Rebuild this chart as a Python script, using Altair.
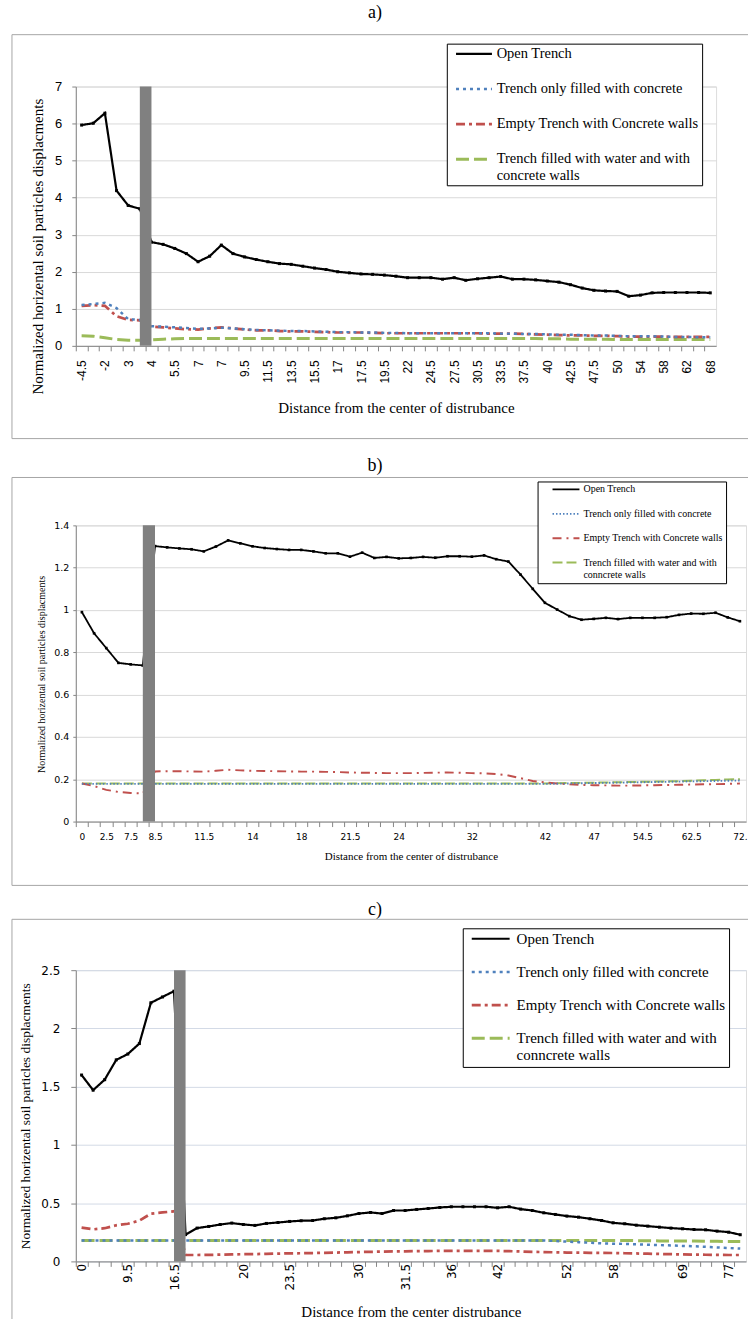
import altair as alt
import pandas as pd

# ---------------- data: panel a ----------------
a_names = ["Open Trench", "Trench only filled with concrete",
           "Empty Trench with Concrete walls",
           "Trench filled with water and with concrete walls"]
a_label_idx = list(range(0, 55, 2))
a_label_txt = ["-4.5", "-2", "3", "4", "5.5", "7", "7", "9.5", "11.5", "13.5", "15.5", "17",
               "17.5", "19.5", "22", "24.5", "27.5", "30.5", "33.5", "37.5", "40", "42.5",
               "47.5", "50", "54", "58", "62", "68"]
a_open = [5.96, 6.01, 6.28, 4.19, 3.79, 3.70, 2.80, 2.74, 2.63, 2.49,
          2.27, 2.42, 2.72, 2.49, 2.40, 2.33, 2.27, 2.22, 2.20, 2.15,
          2.10, 2.06, 2.00, 1.97, 1.94, 1.93, 1.91, 1.88, 1.84, 1.84,
          1.84, 1.80, 1.84, 1.77, 1.81, 1.84, 1.87, 1.80, 1.80, 1.78,
          1.75, 1.72, 1.65, 1.56, 1.50, 1.48, 1.47, 1.34, 1.37, 1.43,
          1.44, 1.44, 1.44, 1.44, 1.43]
a_concrete = [1.10, 1.13, 1.16, 1.02, 0.72, 0.70, 0.53, 0.52, 0.50, 0.48,
              0.46, 0.47, 0.49, 0.47, 0.45, 0.43, 0.42, 0.41, 0.40, 0.40,
              0.39, 0.38, 0.37, 0.37, 0.36, 0.36, 0.35, 0.35, 0.34, 0.34,
              0.34, 0.34, 0.34, 0.34, 0.34, 0.34, 0.33, 0.33, 0.32, 0.32,
              0.31, 0.30, 0.30, 0.29, 0.28, 0.28, 0.27, 0.26, 0.26, 0.26,
              0.25, 0.24, 0.24, 0.23, 0.23]
a_empty = [1.08, 1.10, 1.08, 0.80, 0.70, 0.69, 0.52, 0.50, 0.47, 0.45,
           0.44, 0.47, 0.50, 0.47, 0.44, 0.42, 0.42, 0.40, 0.39, 0.39,
           0.38, 0.37, 0.36, 0.36, 0.36, 0.35, 0.34, 0.34, 0.34, 0.34,
           0.34, 0.34, 0.34, 0.34, 0.34, 0.33, 0.33, 0.33, 0.32, 0.31,
           0.30, 0.29, 0.28, 0.28, 0.27, 0.27, 0.26, 0.25, 0.25, 0.25,
           0.25, 0.24, 0.24, 0.24, 0.24]
a_water = [0.27, 0.26, 0.22, 0.17, 0.15, 0.15, 0.16, 0.18, 0.19, 0.20,
           0.20, 0.20, 0.20, 0.20, 0.20, 0.20, 0.20, 0.20, 0.20, 0.20,
           0.20, 0.20, 0.20, 0.20, 0.20, 0.20, 0.20, 0.20, 0.20, 0.20,
           0.20, 0.20, 0.20, 0.20, 0.20, 0.20, 0.20, 0.20, 0.20, 0.20,
           0.19, 0.19, 0.18, 0.18, 0.18, 0.18, 0.17, 0.17, 0.17, 0.17,
           0.17, 0.17, 0.17, 0.17, 0.17]
a_trench = [5, 6]
a_yticks = [0, 1, 2, 3, 4, 5, 6, 7]

# ---------------- data: panel b ----------------
b_names = ["Open Trench", "Trench only filled with concrete",
           "Empty Trench with Concrete walls",
           "Trench filled with water and with conncrete walls"]
b_label_idx = [0, 2, 4, 6, 10, 14, 18, 22, 26, 32, 38, 42, 46, 50, 54]
b_label_txt = ["0", "2.5", "7.5", "8.5", "11.5", "14", "18", "21.5", "24", "32", "42",
               "47", "54.5", "62.5", "72."]
b_open = [0.99, 0.89, 0.82, 0.75, 0.743, 0.738, 1.302, 1.296, 1.291, 1.287,
          1.277, 1.300, 1.329, 1.315, 1.301, 1.293, 1.288, 1.284, 1.284, 1.277,
          1.268, 1.268, 1.252, 1.271, 1.246, 1.251, 1.244, 1.246, 1.251, 1.247,
          1.254, 1.254, 1.252, 1.258, 1.240, 1.229, 1.167, 1.100, 1.034, 1.002,
          0.971, 0.954, 0.958, 0.963, 0.957, 0.963, 0.963, 0.963, 0.966, 0.977,
          0.983, 0.982, 0.987, 0.965, 0.947]
b_concrete = [0.178] * 39 + [0.179, 0.180, 0.181, 0.182, 0.183, 0.184, 0.185, 0.186,
                             0.187, 0.188, 0.189, 0.190, 0.191, 0.192, 0.193, 0.194]
b_empty = [0.180, 0.168, 0.150, 0.140, 0.135, 0.133,
           0.237, 0.238, 0.238, 0.237, 0.236, 0.240, 0.245, 0.242, 0.240, 0.239,
           0.238, 0.237, 0.236, 0.236, 0.235, 0.234, 0.232, 0.231, 0.230, 0.229,
           0.229, 0.229, 0.230, 0.231, 0.232, 0.231, 0.229, 0.228, 0.225, 0.218,
           0.205, 0.192, 0.185, 0.180, 0.176, 0.173, 0.172, 0.171, 0.170, 0.170,
           0.171, 0.172, 0.173, 0.174, 0.175, 0.176, 0.177, 0.178, 0.180]
b_water = [0.180] * 39 + [0.181, 0.182, 0.183, 0.184, 0.185, 0.186, 0.187, 0.188,
                          0.189, 0.190, 0.191, 0.193, 0.195, 0.197, 0.199, 0.200]
b_trench = [5, 6]
b_yticks = [0, 0.2, 0.4, 0.6, 0.8, 1.0, 1.2, 1.4]

# ---------------- data: panel c ----------------
c_names = ["Open Trench", "Trench only filled with concrete",
           "Empty Trench with Concrete walls",
           "Trench filled with water and with conncrete walls"]
c_label_idx = [0, 4, 8, 14, 18, 24, 28, 32, 36, 42, 46, 52, 56]
c_label_txt = ["0", "9.5", "16.5", "20", "23.5", "30", "31.5", "36", "42", "52", "58",
               "69", "77"]
c_open = [1.60, 1.47, 1.56, 1.73, 1.78, 1.87, 2.22, 2.27, 2.32, 0.230,
          0.286, 0.300, 0.317, 0.329, 0.317, 0.309, 0.326, 0.334, 0.343, 0.349,
          0.351, 0.366, 0.374, 0.391, 0.411, 0.420, 0.411, 0.437, 0.437, 0.446,
          0.454, 0.463, 0.469, 0.469, 0.469, 0.469, 0.460, 0.469, 0.449, 0.437,
          0.417, 0.403, 0.389, 0.380, 0.366, 0.351, 0.331, 0.323, 0.311, 0.303,
          0.294, 0.286, 0.280, 0.274, 0.271, 0.260, 0.251, 0.229]
c_concrete = [0.18] * 41 + [0.175, 0.170, 0.165, 0.160, 0.155, 0.152, 0.150, 0.147,
                            0.143, 0.140, 0.137, 0.133, 0.130, 0.125, 0.120, 0.115, 0.110]
c_empty = [0.290, 0.275, 0.285, 0.310, 0.323, 0.350, 0.410, 0.420, 0.430,
           0.055, 0.055, 0.056, 0.058, 0.060, 0.062, 0.063, 0.065, 0.067, 0.069,
           0.070, 0.072, 0.074, 0.076, 0.078, 0.080, 0.082, 0.084, 0.086, 0.087,
           0.088, 0.089, 0.090, 0.090, 0.090, 0.090, 0.090, 0.090, 0.088, 0.085,
           0.082, 0.080, 0.078, 0.076, 0.075, 0.074, 0.073, 0.072, 0.070, 0.068,
           0.066, 0.064, 0.062, 0.060, 0.058, 0.057, 0.056, 0.055, 0.055]
c_water = [0.18] * 46 + [0.180, 0.180, 0.178, 0.178, 0.176, 0.176, 0.175, 0.175,
                         0.173, 0.172, 0.171, 0.170]
c_trench = [8, 9]
c_yticks = [0, 0.5, 1.0, 1.5, 2.0, 2.5]

COLORS = ["#000000", "#4F81BD", "#C0504D", "#9BBB59"]
SERIF = "Liberation Serif"
FRAME = "#A6A6A6"
AXIS = "#868686"
PLOT_LEFT = 75
PAGE_W = 749
LEG_SHAPE = "M-6,0L6,0"   # horizontal stroke, 12 units long


def build(names, series, label_idx, label_txt, trench, yticks, st):
    n = len(series[0])
    ymax = yticks[-1]
    rows = []
    for k in [3, 2, 1, 0]:
        for i, v in enumerate(series[k]):
            rows.append({"i": i, "v": v, "s": names[k]})
    df = pd.DataFrame(rows)
    W, H = st["w"], st["h"]
    cw = W / n

    idx_js = "[" + ",".join(str(i) for i in label_idx) + "]"
    txt_js = "[" + ",".join("'" + t + "'" for t in label_txt) + "]"
    lab_expr = (f"indexof({idx_js}, datum.value) >= 0 ? "
                f"{txt_js}[indexof({idx_js}, datum.value)] : ''")

    xscale = alt.Scale(domain=[-0.5, n - 0.5], nice=False, zero=False)
    yscale = alt.Scale(domain=[0, ymax], nice=False, zero=True)
    xaxis = alt.Axis(values=list(range(n)), labelExpr=lab_expr, labelOverlap=False,
                     labelFlush=False, labelAngle=st["xangle"], tickOffset=-cw / 2,
                     labelOffset=cw / 2, grid=False, title=st["xtitle"],
                     titleFont=SERIF, titleFontSize=st["xtitlesize"],
                     titleFontWeight="normal", titleColor="black",
                     titleY=st["xtitleY"], titleBaseline="middle",
                     labelFont=st["labfont"], labelFontSize=st["xlabsize"],
                     labelColor="black", labelPadding=st["xlabpad"],
                     tickSize=5, tickColor=AXIS, domainColor=AXIS)
    yaxis = alt.Axis(values=yticks, format=st["yfmt"], title=st["ytitle"],
                     titleFont=SERIF, titleFontSize=st["ytitlesize"],
                     titleFontWeight="normal", titleColor="black",
                     titleAngle=270, titleBaseline="middle", titleAlign="center",
                     titleX=st["ytitleX"], titleY=st["ytitleY"],
                     labelFont=st["labfont"], labelFontSize=st["ylabsize"],
                     labelColor="black", labelPadding=st["ylabpad"],
                     tickSize=st["ytick"], tickColor=AXIS, domainColor=AXIS,
                     gridColor=st["grid"], gridWidth=1)

    last = names[3]
    split = st["split"]
    label_expr = (f"datum.label == '{last}' ? ['{split[0]}', '{split[1]}'] : datum.label")
    s = st["s"]
    leg = alt.Legend(title=None, orient="none", legendX=st["lx"], legendY=st["ly"],
                     direction="vertical", strokeColor="black", fillColor="white",
                     padding=st["lpad"], symbolType=LEG_SHAPE,
                     symbolSize=s ** 2, symbolStrokeWidth=2,
                     symbolOffset=st["soff"], labelOffset=st["loff"],
                     labelFont=SERIF, labelFontSize=st["lfs"], labelColor="black",
                     labelLimit=400, rowPadding=st["rp"], labelExpr=label_expr)

    x = alt.X("i:Q", scale=xscale, axis=xaxis)
    y = alt.Y("v:Q", scale=yscale, axis=yaxis)

    lines = alt.Chart(df).mark_line().encode(
        x=x, y=y,
        color=alt.Color("s:N", scale=alt.Scale(domain=names, range=COLORS), legend=leg),
        strokeDash=alt.StrokeDash("s:N", scale=alt.Scale(domain=names, range=st["dashes"]),
                                  legend=leg),
        strokeWidth=alt.StrokeWidth("s:N", scale=alt.Scale(domain=names, range=st["widths"]),
                                    legend=None),
    )
    pts = alt.Chart(df).transform_filter(alt.datum.s == names[0]).mark_point(
        shape="square", filled=True, size=st["msize"], color="black", opacity=1
    ).encode(x=x, y=y)

    bar_df = pd.DataFrame({"x1": [trench[0]], "x2": [trench[1]], "y1": [0], "y2": [ymax]})
    bar = alt.Chart(bar_df).mark_rect(color="#808080").encode(
        x=alt.X("x1:Q", scale=xscale, axis=xaxis), x2="x2:Q",
        y=alt.Y("y1:Q", scale=yscale, axis=yaxis), y2="y2:Q")

    one = alt.Data(values=[{"k": 0}])
    right = PAGE_W - PLOT_LEFT
    r_top, r_bot = st["region"]
    f_top, f_bot = st["frame"]
    region = alt.Chart(one).mark_rule(color="white", strokeWidth=1).encode(
        x=alt.value(-64), y=alt.value(r_top), y2=alt.value(r_bot))
    frame_left = alt.Chart(one).mark_rule(color=FRAME, strokeWidth=1).encode(
        x=alt.value(-64), y=alt.value(f_top), y2=alt.value(min(f_bot, r_bot)))
    frame_top = alt.Chart(one).mark_rule(color=FRAME, strokeWidth=1).encode(
        x=alt.value(-64), x2=alt.value(right), y=alt.value(f_top))
    layers = [region, frame_left, frame_top]
    if f_bot < r_bot:
        frame_bot = alt.Chart(one).mark_rule(color=FRAME, strokeWidth=1).encode(
            x=alt.value(-64), x2=alt.value(right), y=alt.value(f_bot))
        layers.append(frame_bot)
    title = alt.Chart(one).mark_text(
        text=st["title"], font=SERIF, fontSize=18, baseline="middle", align="center",
        color="black").encode(x=alt.value(375 - PLOT_LEFT), y=alt.value(st["title_y"]))
    layers += [lines, pts, bar, title]
    return alt.layer(*layers).properties(width=W, height=H)


pa = build(a_names, [a_open, a_concrete, a_empty, a_water], a_label_idx, a_label_txt,
           a_trench, a_yticks,
           dict(w=642, h=260, xangle=270, labfont="Liberation Sans", xlabsize=12, xlabpad=9,
                ylabsize=13, ylabpad=10, ytick=4, yfmt="d",
                xtitle="Distance from the center of distrubance", xtitlesize=15, xtitleY=62,
                ytitle="Normalized horizental soil particles displacments", ytitlesize=15,
                ytitleX=-38, ytitleY=160, grid="#D9D9D9",
                dashes=[[1, 0], [3, 4], [9, 4, 3, 4], [13, 5]], widths=[2.2, 3, 3, 2.5],
                msize=9,
                lx=372, ly=-43, lpad=3, s=6, soff=17, loff=15.5, lfs=14.5, rp=20.2,
                split=["Trench filled with water and with", "concrete walls"],
                region=(-84, 365), frame=(-52, 353), title="a)", title_y=-74))

pb = build(b_names, [b_open, b_concrete, b_empty, b_water], b_label_idx, b_label_txt,
           b_trench, b_yticks,
           dict(w=672, h=297, xangle=0, labfont="DejaVu Sans", xlabsize=9, xlabpad=6,
                ylabsize=9.5, ylabpad=4, ytick=3, yfmt=".1~f",
                xtitle="Distance from the  center of distrubance", xtitlesize=11, xtitleY=35,
                ytitle="Normalized horizental soil particles displacments", ytitlesize=10,
                ytitleX=-34, ytitleY=149, grid="#D9D9D9",
                dashes=[[1, 0], [1.5, 2], [9, 5, 2, 5], [10, 4]], widths=[1.8, 2, 2.2, 2],
                msize=7,
                lx=463, ly=-44, lpad=3, s=4.5, soff=20.5, loff=12.5, lfs=10, rp=14.45,
                split=["Trench filled with water and with", "conncrete walls"],
                region=(-73, 372), frame=(-48, 361), title="b)", title_y=-60))

pc = build(c_names, [c_open, c_concrete, c_empty, c_water], c_label_idx, c_label_txt,
           c_trench, c_yticks,
           dict(w=672, h=292, xangle=270, labfont="DejaVu Sans", xlabsize=12, xlabpad=-3,
                ylabsize=12, ylabpad=11, ytick=5, yfmt=".1~f",
                xtitle="Distance from the center distrubance", xtitlesize=15, xtitleY=50,
                ytitle="Normalized horizental soil particles displacments", ytitlesize=13.5,
                ytitleX=-50, ytitleY=146, grid="#D3DAE6",
                dashes=[[1, 0], [3, 4], [9, 4, 3, 4], [13, 5]], widths=[2.2, 3, 3, 2.5],
                msize=9,
                lx=388, ly=-42, lpad=3, s=6.33, soff=17.5, loff=18.5, lfs=15, rp=17.27,
                split=["Trench filled with water and with", "conncrete walls"],
                region=(-72, 353), frame=(-51, 400), title="c)", title_y=-60))

chart = alt.vconcat(pa, pb, pc, spacing=0).resolve_scale(
    color="independent", strokeDash="independent", strokeWidth="independent"
).resolve_legend(color="independent", strokeDash="independent").properties(
    padding={"left": 11, "top": 0, "right": 0, "bottom": 0}
).configure_view(stroke="#D0D0D0").configure(background="white")

chart.save("out.html", embed_options={"renderer": "svg", "actions": False})
